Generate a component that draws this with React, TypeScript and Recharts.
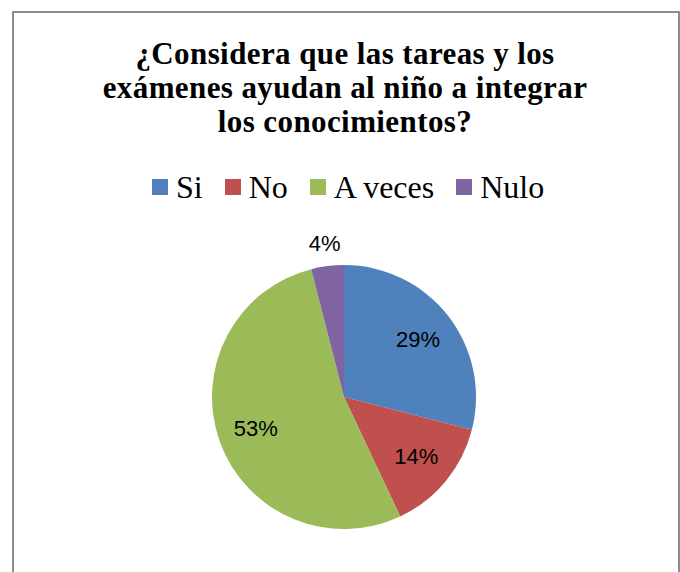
import React from "react";
import { PieChart, Pie, Cell } from "recharts";

const categories = ["Si", "No", "A veces", "Nulo"];
const percents = [29, 14, 53, 4];
const colors = ["#4f81bd", "#c0504d", "#9bbb59", "#8064a2"];
const titleLines = [
  "¿Considera que las tareas y los",
  "exámenes ayudan al niño a integrar",
  "los conocimientos?",
];

const data = categories.map((name, i) => ({ name, value: percents[i] }));

const RAD = Math.PI / 180;

function renderLabel(props: any) {
  const { cx, cy, midAngle, outerRadius, value } = props;
  const inside = value >= 10;
  const r = inside ? outerRadius * 0.71 : outerRadius + 23;
  const x = cx + r * Math.cos(-midAngle * RAD);
  const y = cy + r * Math.sin(-midAngle * RAD);
  return (
    <text
      x={x}
      y={y}
      textAnchor="middle"
      dominantBaseline="central"
      fill="#000"
      fontSize={22}
      fontFamily="'Liberation Sans', Arial, sans-serif"
    >
      {`${value}%`}
    </text>
  );
}

function ChartLegend() {
  return (
    <div
      style={{
        position: "absolute",
        left: 152,
        top: 171,
        display: "flex",
        alignItems: "center",
        height: 32,
        lineHeight: "32px",
        fontFamily: "'Liberation Serif', 'Times New Roman', serif",
        fontSize: 32,
        color: "#000",
        whiteSpace: "nowrap",
      }}
    >
      {categories.map((name, i) => (
        <div key={name} style={{ display: "flex", alignItems: "center", marginRight: i < categories.length - 1 ? 22 : 0 }}>
          <span style={{ width: 16, height: 16, background: colors[i], display: "inline-block", marginRight: 8 }} />
          <span>{name}</span>
        </div>
      ))}
    </div>
  );
}

export default function App() {
  return (
    <div style={{ position: "absolute", left: 0, top: 0, width: 680, height: 572, overflow: "hidden", background: "#fff" }}>
      <div
        style={{
          position: "absolute",
          left: 12,
          top: 11,
          width: 664,
          height: 620,
          border: "2px solid #8c8c8c",
        }}
      />
      <div
        style={{
          position: "absolute",
          left: 12,
          top: 37,
          width: 666,
          textAlign: "center",
          fontFamily: "'Liberation Serif', 'Times New Roman', serif",
          fontWeight: "bold",
          fontSize: 31,
          letterSpacing: 0.4,
          lineHeight: "34px",
          color: "#000",
        }}
      >
        {titleLines.map((t, i) => (
          <div key={i}>{t}</div>
        ))}
      </div>
      <ChartLegend />
      <div style={{ position: "absolute", left: 0, top: 0 }}>
        <PieChart width={680} height={572} margin={{ top: 0, right: 0, bottom: 0, left: 0 }}>
          <Pie
            data={data}
            dataKey="value"
            nameKey="name"
            cx={344}
            cy={397}
            outerRadius={132}
            startAngle={90}
            endAngle={-270}
            stroke="none"
            label={renderLabel}
            labelLine={false}
            isAnimationActive={false}
          >
            {data.map((d, i) => (
              <Cell key={d.name} fill={colors[i]} />
            ))}
          </Pie>
        </PieChart>
      </div>
    </div>
  );
}
